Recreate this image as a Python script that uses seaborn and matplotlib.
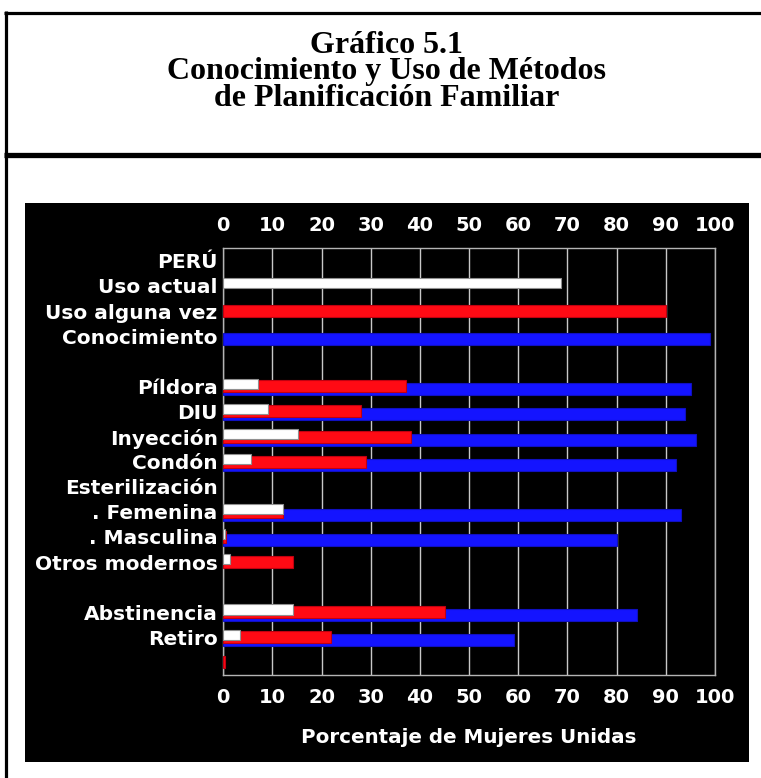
import numpy as np
import pandas as pd
import matplotlib
matplotlib.use("Agg")
import matplotlib.pyplot as plt
import seaborn as sns
from matplotlib.patches import Rectangle
from matplotlib.lines import Line2D

# ---------------- data ----------------
row_labels = ['PERÚ', 'Uso actual', 'Uso alguna vez', 'Conocimiento', '',
              'Píldora', 'DIU', 'Inyección', 'Condón', 'Esterilización',
              '. Femenina', '. Masculina', 'Otros modernos', '',
              'Abstinencia', 'Retiro', '']
nan = np.nan
uso_actual = [nan, 68.7, nan, nan, nan, 7.0, 9.0, 15.1, 5.6, nan,
              12.1, 0.4, 1.4, nan, 14.1, 3.3, nan]
uso_alguna_vez = [nan, nan, 90.0, nan, nan, 37.1, 28.0, 38.1, 29.0, nan,
                  12.2, 0.6, 14.1, nan, 45.1, 22.0, 0.3]
conocimiento = [nan, nan, nan, 99.0, nan, 95.1, 94.0, 96.1, 92.0, nan,
                93.1, 80.1, nan, nan, 84.1, 59.1, nan]
x_ticks = list(range(0, 101, 10))

title_txt = 'Gráfico 5.1\nConocimiento y Uso de Métodos\nde Planificación Familiar'
x_label = 'Porcentaje de Mujeres Unidas'

# ---------------------------------------------------------
sns.set_style('white')
plt.rcParams['font.family'] = ['DejaVu Sans']

fig = plt.figure(figsize=(7.61, 7.78), dpi=100)
fig.patch.set_facecolor('white')

# black panel behind the plot
fig.patches.append(Rectangle((25 / 761, 16 / 778), 724 / 761, 559 / 778,
                             transform=fig.transFigure, facecolor='black',
                             edgecolor='none', zorder=-1))
# page frame lines
fig.add_artist(Line2D([5.5 / 761, 5.5 / 761], [0, 1 - 11 / 778],
                      transform=fig.transFigure, color='black', lw=2.3,
                      solid_capstyle='butt'))
fig.add_artist(Line2D([4 / 761, 1], [1 - 12.5 / 778, 1 - 12.5 / 778],
                      transform=fig.transFigure, color='black', lw=2.3,
                      solid_capstyle='butt'))
fig.add_artist(Line2D([4 / 761, 1], [1 - 154.5 / 778, 1 - 154.5 / 778],
                      transform=fig.transFigure, color='black', lw=3.8,
                      solid_capstyle='butt'))

fig.text(0.508, 1 - 31 / 778, title_txt, ha='center', va='top',
         family='Liberation Serif', weight='bold', fontsize=23,
         linespacing=0.88, color='black')

ax = fig.add_axes([223.3 / 761, 1 - 675 / 778, 491.7 / 761, 426.7 / 778])
ax.set_facecolor('black')

pos = np.arange(len(row_labels))
series = [
    (conocimiento, 0.12, 0.48, '#1414ff', '#1010c0'),
    (uso_alguna_vez, 0.0, 0.48, '#ff0a14', '#c00010'),
    (uso_actual, -0.11, 0.40, '#ffffff', '#909090'),
]
for vals, off, h, col, ec in series:
    df = pd.DataFrame({'pct': vals, 'row': pos + off}).dropna()
    sns.barplot(data=df, x='pct', y='row', orient='h', native_scale=True,
                width=h, color=col, edgecolor=ec, linewidth=0.8,
                saturation=1, errorbar=None, ax=ax, zorder=3)

ax.set_xlim(0, 100)
ax.set_ylim(len(row_labels) - 0.5, -0.5)
ax.set_xticks(x_ticks)
ax.set_yticks(pos)
ax.set_yticklabels(row_labels)
ax.grid(axis='x', color='#c8c8c8', lw=1.0, zorder=1)
ax.grid(axis='y', visible=False)
ax.set_axisbelow(True)
for s in ax.spines.values():
    s.set_color('#b4b4b4')
    s.set_linewidth(1.0)
    s.set_visible(True)

ax.tick_params(axis='x', which='both', top=False, bottom=False,
               labeltop=True, labelbottom=True, length=0, pad=9.5,
               labelcolor='white', labelsize=14)
ax.tick_params(axis='y', left=False, length=0, pad=4,
               labelcolor='white', labelsize=14.5)
for t in ax.get_xticklabels() + ax.get_yticklabels():
    t.set_fontweight('bold')

ax.set_ylabel('')
ax.set_xlabel(x_label, color='white', fontsize=14.3, fontweight='bold',
              labelpad=15)

fig.savefig('out.png', dpi=100, facecolor='white')
